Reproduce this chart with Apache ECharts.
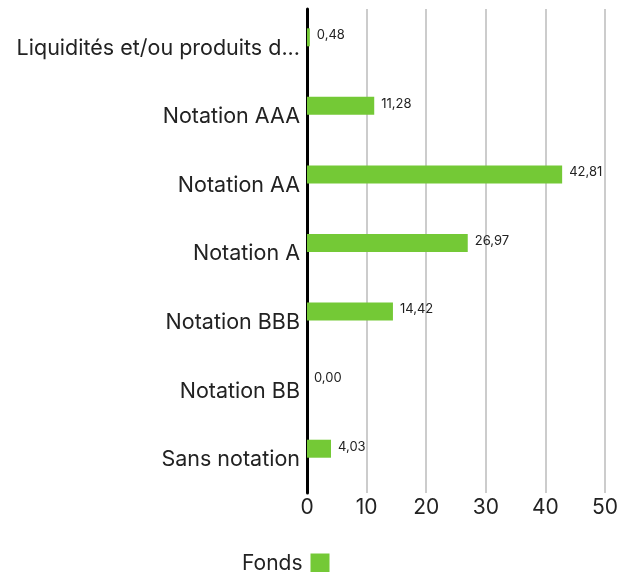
<!DOCTYPE html>
<html>
<head>
<meta charset="utf-8">
<script src="https://cdn.jsdelivr.net/npm/echarts@6/dist/echarts.min.js"></script>
<style>html,body{margin:0;padding:0;background:#fff;}#c{width:634px;height:572px;}</style>
</head>
<body>
<div id="c"></div>
<script>
var categories = ["Liquidités et/ou produits d...", "Notation AAA", "Notation AA", "Notation A", "Notation BBB", "Notation BB", "Sans notation"];
var fondsValues = [0.48, 11.28, 42.81, 26.97, 14.42, 0.00, 4.03];
var xTicks = [0, 10, 20, 30, 40, 50];
var seriesName = "Fonds";

var FONT = "Inter";
var chart = echarts.init(document.getElementById('c'), null, {renderer: 'canvas'});
chart.setOption({
  animation: false,
  textStyle: {fontFamily: FONT},
  grid: [
    {left: 307, right: 29, top: 9, bottom: 79},
    {left: 307, right: 29, top: 3, bottom: 89}
  ],
  xAxis: [
    {gridIndex: 0, type: 'value', min: xTicks[0], max: xTicks[xTicks.length - 1], interval: 10,
     axisLine: {show: false}, axisTick: {show: false},
     splitLine: {show: true, lineStyle: {color: '#cccccc', width: 2}},
     axisLabel: {fontFamily: FONT, fontSize: 21, color: '#222', margin: 4}},
    {gridIndex: 1, type: 'value', min: xTicks[0], max: xTicks[xTicks.length - 1],
     show: false}
  ],
  yAxis: [
    {gridIndex: 0, type: 'category', data: categories, inverse: true,
     axisLine: {show: true, lineStyle: {color: '#000', width: 3}},
     axisTick: {show: false}, axisLabel: {show: false}, splitLine: {show: false}},
    {gridIndex: 1, type: 'category', data: categories, inverse: true,
     axisLine: {show: false}, axisTick: {show: false},
     axisLabel: {fontFamily: FONT, fontSize: 21.5, color: '#222', margin: 7, verticalAlign: 'top', lineHeight: 22}}
  ],
  legend: {
    data: [seriesName], left: 237, top: 548, align: 'right',
    itemWidth: 19, itemHeight: 20, itemGap: 10,
    textStyle: {fontFamily: FONT, fontSize: 21, color: '#222', padding: [0, 3, 0, 0]},
    icon: 'rect'
  },
  series: [{
    name: seriesName, type: 'bar', xAxisIndex: 1, yAxisIndex: 1,
    data: fondsValues, barWidth: 18,
    itemStyle: {color: '#74c936'},
    label: {show: true, position: 'right', distance: 7, fontFamily: FONT, fontSize: 13, color: '#222',
      offset: [0, -2],
      formatter: function (p) { return p.value.toFixed(2).replace('.', ','); }}
  }]
});
</script>
</body>
</html>
